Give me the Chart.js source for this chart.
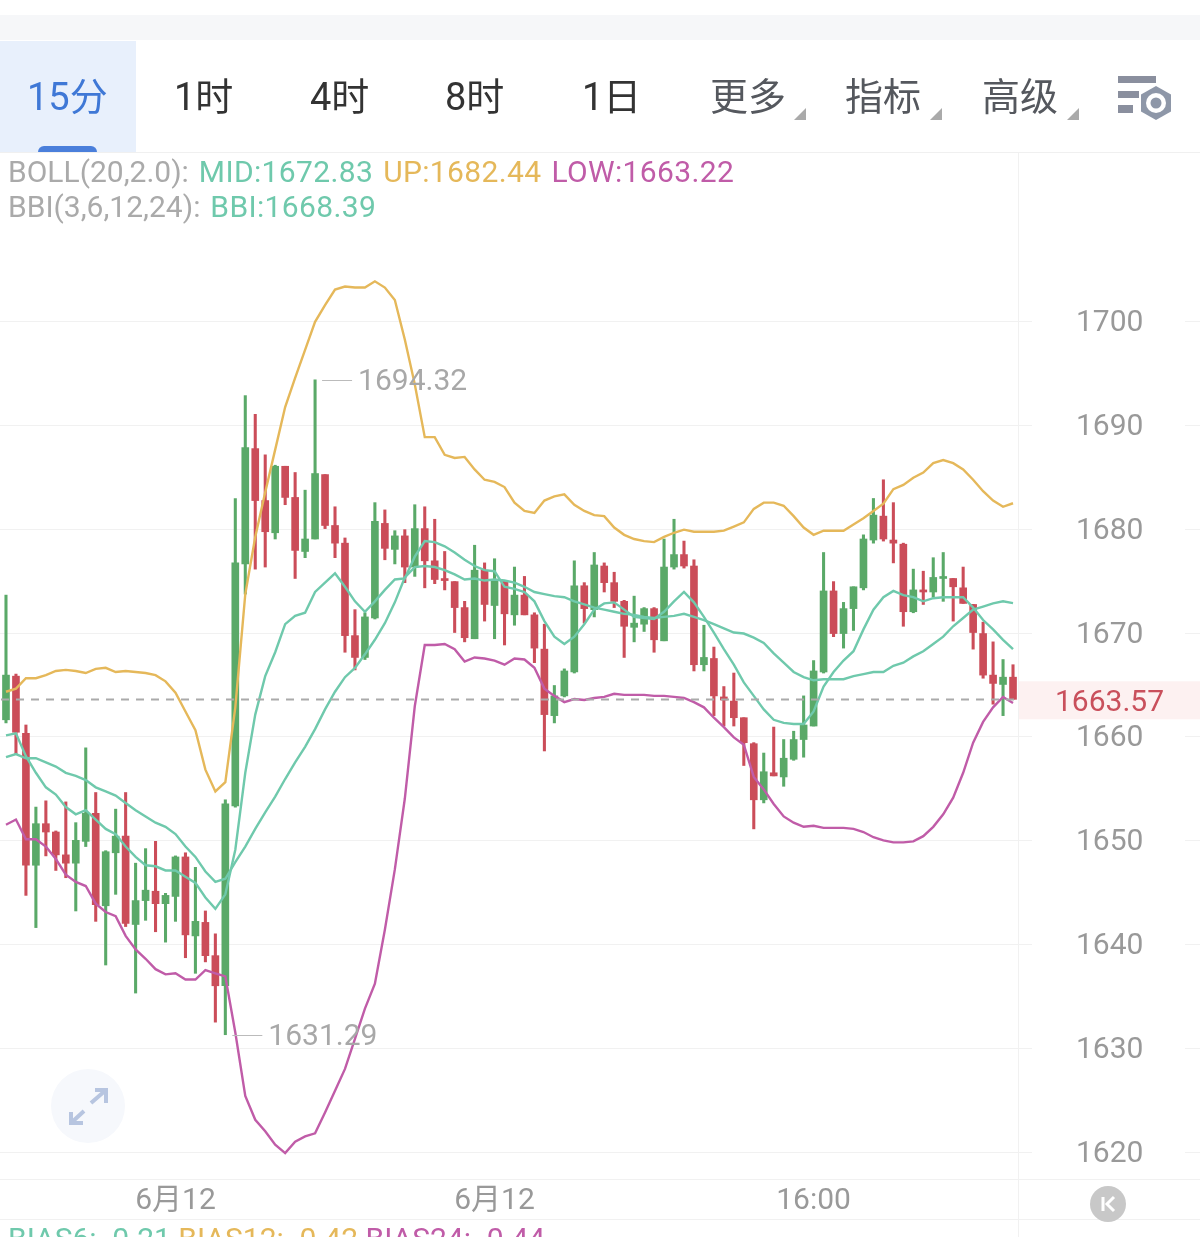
<!DOCTYPE html>
<html>
<head>
<meta charset="utf-8">
<script src="https://cdn.jsdelivr.net/npm/chart.js@4"></script>
<style>
  html, body { margin: 0; background: #fff; }
  #page { position: relative; width: 1200px; height: 1237px; overflow: hidden; font-family: Roboto, "Noto Sans CJK SC", sans-serif; }
  #page canvas { position: absolute; left: 0; top: 0; }
  .abs { position: absolute; white-space: nowrap; }
  .tab { font-size: 38px; line-height: 44px; top: 75px; color: #333; }
  .dim { color: #55585e; }
  .ind { font-size: 30px; line-height: 36px; left: 8px; word-spacing: 2.500px; }
  .ind b { font-weight: 400; letter-spacing: 0.36px; }
  .bias, .bias b { word-spacing: 0; letter-spacing: 0; }
  .tri { width: 0; height: 0; border-left: 12px solid transparent; border-bottom: 12px solid #aaa; top: 108px; }
</style>
</head>
<body>
<div id="page">
  <div class="abs" style="left:0;top:15px;width:1200px;height:25px;background:#f6f7f9"></div>
  <div class="abs" style="left:0;top:41px;width:136px;height:111px;background:#e8f0fc"></div>
  <div class="abs" style="left:38px;top:146px;width:59px;height:6px;background:#4a7fdb;border-radius:6px 6px 0 0"></div>
  <div class="abs" style="left:0;top:152px;width:1200px;height:1px;background:#f0f0f0"></div>
  <canvas id="chart" width="1200" height="1241"></canvas>

  <span class="abs tab" style="left:27px;color:#3f78d6">15分</span>
  <span class="abs tab" style="left:174px">1时</span>
  <span class="abs tab" style="left:310px">4时</span>
  <span class="abs tab" style="left:445px">8时</span>
  <span class="abs tab" style="left:582px">1日</span>
  <span class="abs tab dim" style="left:710px">更多</span>
  <span class="abs tab dim" style="left:845px">指标</span>
  <span class="abs tab dim" style="left:982px">高级</span>
  <div class="abs tri" style="left:794px"></div>
  <div class="abs tri" style="left:930px"></div>
  <div class="abs tri" style="left:1067px"></div>
  <svg class="abs" style="left:1110px;top:70px" width="70" height="60" viewBox="1110 70 70 60">
    <rect x="1118" y="76" width="38" height="7" fill="#8a8f9e"/>
    <rect x="1118" y="91" width="21" height="7" fill="#8a8f9e"/>
    <rect x="1118" y="105" width="15" height="8" fill="#8a8f9e"/>
    <polygon points="1156,86 1171,94.500 1171,111.500 1156,120 1141,111.500 1141,94.500" fill="#8e97a8"/>
    <circle cx="1156" cy="103" r="10" fill="#fff"/>
    <circle cx="1156" cy="103" r="5.500" fill="#8e97a8"/>
  </svg>

  <div class="abs ind" style="top:154px;color:#aaa">BOLL(20,2.0): <b style="color:#6fc9ac">MID:1672.83</b> <b style="color:#e5b85a">UP:1682.44</b> <b style="color:#c05ca8">LOW:1663.22</b></div>
  <div class="abs ind" style="top:189px;color:#aaa">BBI(3,6,12,24): <b style="color:#6fc9ac">BBI:1668.39</b></div>

  <svg class="abs" style="left:50px;top:1068px" width="76" height="76" viewBox="50 1068 76 76">
    <circle cx="88" cy="1106" r="37" fill="#f6f8fc"/>
    <path d="M91 1103 L106 1090 M95 1090 L106 1090 L106 1103 M71 1123 L84 1111 M71 1112 L71 1123 L83 1123" fill="none" stroke="#b7c5e0" stroke-width="4"/>
  </svg>
  <svg class="abs" style="left:1088px;top:1184px" width="40" height="40" viewBox="1088 1184 40 40">
    <circle cx="1108" cy="1204" r="18" fill="#c8c8c8"/>
    <path d="M1103 1197 V1211 M1114 1197 L1107 1204 L1114 1211" fill="none" stroke="#fff" stroke-width="3"/>
  </svg>

  <div class="abs ind bias" style="top:1221px;color:#6fc9ac">BIAS6: -0.21 <b style="color:#e5b85a">BIAS12: -0.42</b> <b style="color:#c05ca8">BIAS24: -0.44</b></div>
</div>

<script>
const opens = [
  1661.6, 1665.8, 1660.3, 1647.6, 1651.6, 1650.8, 1648.6, 1647.8, 1649.9, 1652.6,
  1643.7, 1648.8, 1650.4, 1641.9, 1644.2, 1645.1, 1643.9, 1644.6, 1648.4, 1640.8,
  1642.1, 1638.9, 1636.0, 1653.3, 1676.6, 1687.7, 1682.7, 1679.6, 1686.0, 1683.0,
  1677.8, 1679.0, 1685.2, 1680.3, 1678.6, 1669.7, 1667.6, 1671.4, 1680.5, 1678.0,
  1679.3, 1676.3, 1680.0, 1676.9, 1675.1, 1674.9, 1672.4, 1669.4, 1676.0, 1672.6,
  1674.9, 1671.7, 1673.6, 1671.7, 1668.4, 1662.0, 1663.9, 1666.2, 1674.5, 1672.2,
  1676.4, 1674.8, 1673.0, 1670.5, 1670.8, 1672.3, 1669.2, 1676.3, 1677.5, 1676.4,
  1666.9, 1667.5, 1663.8, 1663.4, 1661.8, 1659.3, 1653.9, 1656.5, 1656.1, 1657.8,
  1659.7, 1661.0, 1666.2, 1674.0, 1669.9, 1672.3, 1674.3, 1678.9, 1681.2, 1678.9,
  1678.5, 1672.0, 1674.1, 1673.9, 1675.2, 1675.2, 1674.3, 1672.7, 1669.9, 1665.9,
  1665.0, 1665.7
];
const closes = [
  1665.9, 1660.4, 1647.6, 1651.6, 1650.8, 1648.6, 1647.8, 1650.0, 1652.6, 1643.8,
  1648.9, 1650.4, 1642.0, 1644.2, 1645.2, 1643.9, 1644.7, 1648.4, 1640.9, 1642.2,
  1638.9, 1636.0, 1653.5, 1676.7, 1687.8, 1682.7, 1679.7, 1686.0, 1683.0, 1677.9,
  1679.0, 1685.3, 1680.3, 1678.6, 1669.7, 1667.6, 1671.5, 1680.7, 1678.1, 1679.3,
  1676.3, 1680.0, 1676.9, 1675.1, 1675.0, 1672.4, 1669.5, 1676.0, 1672.7, 1675.1,
  1671.8, 1673.6, 1671.7, 1668.5, 1662.1, 1663.9, 1666.3, 1674.5, 1672.3, 1676.5,
  1674.8, 1673.0, 1670.6, 1670.9, 1672.3, 1669.3, 1676.3, 1677.5, 1676.4, 1666.9,
  1667.6, 1663.9, 1663.5, 1661.8, 1659.4, 1653.9, 1656.6, 1656.2, 1657.9, 1659.7,
  1661.1, 1666.3, 1674.0, 1669.9, 1672.3, 1674.4, 1679.0, 1681.3, 1679.0, 1678.6,
  1672.0, 1674.1, 1673.9, 1675.3, 1675.3, 1674.4, 1672.8, 1670.0, 1665.9, 1665.1,
  1665.7, 1663.57
];
const highs = [
  1673.6, 1666.0, 1661.1, 1653.2, 1653.8, 1650.9, 1653.7, 1651.7, 1658.9, 1654.6,
  1649.0, 1653.0, 1654.6, 1647.8, 1649.2, 1649.9, 1644.9, 1648.5, 1648.8, 1647.4,
  1643.2, 1641.0, 1653.9, 1682.9, 1692.8, 1691.0, 1687.1, 1686.1, 1686.0, 1685.4,
  1683.7, 1694.32, 1685.2, 1682.1, 1679.1, 1672.2, 1671.9, 1682.5, 1681.8, 1679.8,
  1679.9, 1682.3, 1682.1, 1680.9, 1677.8, 1674.9, 1673.0, 1678.4, 1676.7, 1677.1,
  1674.9, 1676.3, 1675.4, 1671.9, 1670.8, 1664.9, 1666.5, 1676.9, 1674.8, 1677.7,
  1676.7, 1675.8, 1673.1, 1673.5, 1672.4, 1672.4, 1679.0, 1680.9, 1678.8, 1677.0,
  1670.7, 1668.6, 1664.8, 1666.1, 1661.8, 1659.4, 1658.4, 1660.9, 1659.7, 1660.5,
  1663.9, 1667.3, 1677.7, 1674.9, 1672.9, 1674.4, 1679.4, 1682.9, 1684.7, 1682.5,
  1678.6, 1676.1, 1675.9, 1677.2, 1677.7, 1675.2, 1676.3, 1672.7, 1671.0, 1669.1,
  1667.4, 1666.9
];
const lows = [
  1661.3, 1658.3, 1644.7, 1641.6, 1648.5, 1647.1, 1646.4, 1643.2, 1649.4, 1642.2,
  1638.0, 1644.8, 1641.7, 1635.3, 1642.3, 1641.2, 1640.2, 1642.2, 1638.7, 1637.2,
  1638.3, 1632.5, 1631.29, 1653.2, 1673.7, 1676.1, 1676.3, 1679.0, 1682.3, 1675.2,
  1677.2, 1679.0, 1680.0, 1677.2, 1668.1, 1666.4, 1667.4, 1671.3, 1677.0, 1676.6,
  1674.8, 1675.4, 1674.3, 1674.7, 1674.1, 1670.0, 1669.1, 1669.4, 1671.1, 1669.4,
  1668.8, 1670.7, 1671.7, 1667.1, 1658.6, 1661.3, 1663.8, 1666.1, 1670.9, 1671.5,
  1673.9, 1672.4, 1667.6, 1669.1, 1670.1, 1668.1, 1669.2, 1676.1, 1676.2, 1666.3,
  1666.3, 1662.0, 1661.0, 1661.0, 1657.2, 1651.1, 1653.6, 1656.2, 1655.2, 1657.7,
  1658.0, 1661.0, 1666.1, 1669.6, 1668.5, 1670.2, 1674.1, 1678.6, 1678.8, 1676.7,
  1670.6, 1671.9, 1672.7, 1673.4, 1673.0, 1671.1, 1672.8, 1668.4, 1665.6, 1663.1,
  1662.0, 1663.57
];
const bollUp = [
  1664.3, 1664.6, 1665.6, 1665.6, 1665.9, 1666.3, 1666.4, 1666.3, 1666.1, 1666.5,
  1666.6, 1666.2, 1666.3, 1666.2, 1666.1, 1665.9, 1665.3, 1664.2, 1662.4, 1660.6,
  1656.8, 1654.7, 1655.6, 1662.8, 1673.7, 1679.2, 1683.5, 1687.6, 1691.7, 1694.5,
  1697.2, 1699.9, 1701.5, 1703.0, 1703.3, 1703.2, 1703.2, 1703.8, 1703.2, 1702.0,
  1698.2, 1693.9, 1688.8, 1688.8, 1687.1, 1686.8, 1686.9, 1685.7, 1684.7, 1684.5,
  1684.0, 1682.5, 1681.7, 1681.5, 1682.7, 1683.1, 1683.3, 1682.3, 1681.7, 1681.3,
  1681.2, 1680.1, 1679.4, 1679.0, 1678.8, 1678.7, 1679.2, 1679.6, 1679.9, 1679.7,
  1679.7, 1679.7, 1679.8, 1680.2, 1680.6, 1681.9, 1682.5, 1682.5, 1682.2, 1681.2,
  1680.1, 1679.4, 1679.8, 1679.8, 1679.8, 1680.4, 1681.0, 1681.7, 1682.4, 1683.8,
  1684.2, 1684.9, 1685.4, 1686.3, 1686.6, 1686.3, 1685.7, 1684.7, 1683.6, 1682.7,
  1682.1, 1682.44
];
const bollMid = [
  1658.0, 1658.3, 1657.9, 1657.9, 1657.5, 1657.1, 1656.5, 1656.2, 1655.8, 1655.1,
  1654.7, 1654.3, 1653.6, 1652.9, 1652.3, 1651.7, 1651.3, 1650.6, 1649.4, 1648.4,
  1647.0, 1646.0, 1646.3, 1647.9, 1649.4, 1651.1, 1652.7, 1654.2, 1655.9, 1657.5,
  1659.0, 1660.7, 1662.6, 1664.3, 1665.7, 1666.6, 1667.9, 1669.3, 1670.9, 1672.9,
  1675.3, 1676.3, 1676.4, 1676.3, 1676.0, 1675.6, 1675.1, 1675.2, 1675.0, 1675.1,
  1675.0, 1674.8, 1674.4, 1673.9, 1673.7, 1673.5, 1673.4, 1673.0, 1672.7, 1672.4,
  1672.2, 1672.0, 1671.8, 1671.7, 1671.5, 1671.4, 1671.5, 1671.6, 1671.8, 1671.5,
  1671.2, 1670.8, 1670.4, 1670.0, 1669.9, 1669.5, 1669.0, 1668.0, 1667.1, 1666.2,
  1665.7, 1665.4, 1665.5, 1665.5, 1665.5, 1665.8, 1666.0, 1666.2, 1666.2, 1666.8,
  1667.1, 1667.7, 1668.2, 1668.9, 1669.6, 1670.6, 1671.4, 1672.2, 1672.5, 1672.8,
  1673.0, 1672.83
];
const bollLow = [
  1651.5, 1652.0, 1650.1, 1650.1, 1649.4, 1648.2, 1646.7, 1646.0, 1645.6, 1643.9,
  1643.1, 1642.7, 1640.8, 1639.5, 1638.6, 1637.6, 1637.1, 1637.2, 1636.6, 1636.6,
  1637.5, 1637.2, 1636.9, 1631.5, 1625.4, 1623.1, 1622.0, 1620.7, 1619.9, 1621.0,
  1621.5, 1621.8, 1623.8, 1625.9, 1628.0, 1630.9, 1633.8, 1636.2, 1641.4, 1647.2,
  1654.0, 1662.9, 1668.8, 1668.8, 1668.9, 1668.4, 1667.2, 1667.6, 1667.5, 1667.3,
  1666.9, 1667.5, 1667.4, 1666.6, 1664.6, 1663.9, 1663.3, 1663.6, 1663.5, 1663.7,
  1663.8, 1664.1, 1664.0, 1664.0, 1664.0, 1663.9, 1663.9, 1663.8, 1663.7, 1663.3,
  1662.8, 1661.8, 1660.9, 1659.9, 1659.2, 1656.1, 1654.9, 1653.5, 1652.3, 1651.7,
  1651.3, 1651.4, 1651.2, 1651.2, 1651.2, 1651.1, 1650.8, 1650.3, 1650.0, 1649.8,
  1649.8, 1649.9, 1650.4, 1651.3, 1652.5, 1654.1, 1656.5, 1659.4, 1661.4, 1662.8,
  1663.8, 1663.22
];
const bbi = [
  1660.1, 1660.3, 1658.1, 1656.5, 1655.1, 1654.4, 1653.2, 1652.5, 1652.9, 1652.0,
  1651.1, 1650.6, 1649.4, 1648.4, 1647.6, 1647.5, 1647.1, 1647.1, 1646.5, 1645.9,
  1644.5, 1643.4, 1644.8, 1649.1, 1656.5, 1662.1, 1665.8, 1668.1, 1670.8, 1671.6,
  1671.9, 1673.9, 1674.8, 1675.7, 1674.4, 1673.0, 1672.0, 1673.0, 1674.1, 1675.1,
  1675.2, 1677.3, 1678.8, 1678.7, 1678.3, 1677.7, 1677.0, 1676.4, 1676.0, 1675.9,
  1674.4, 1674.2, 1673.9, 1673.0, 1671.1, 1669.6, 1668.9, 1669.6, 1670.8, 1672.2,
  1672.8, 1672.9, 1672.2, 1671.5, 1671.4, 1671.3, 1672.0, 1673.0, 1673.9, 1672.9,
  1671.5, 1670.0, 1668.4, 1666.9, 1665.2, 1663.9, 1662.6, 1661.6, 1661.3, 1661.2,
  1661.2, 1662.4, 1664.8, 1666.2, 1667.3, 1668.2, 1670.3, 1672.2, 1673.4, 1674.0,
  1673.6, 1673.4, 1673.0, 1673.3, 1673.4, 1673.4, 1673.4, 1672.4, 1671.2, 1670.3,
  1669.3, 1668.39
];

const yTicks = [1700, 1690, 1680, 1670, 1660, 1650, 1640, 1630, 1620];
const xTickIndex = [17, 49, 81];
const xTickLabels = ["6月12", "6月12", "16:00"];
const lastPrice = 1663.57;
const maxPrice = 1694.32;
const minPrice = 1631.29;

const GREEN = "#5aa968";
const RED = "#cb4d59";
const labelFont = { family: "Roboto, 'Noto Sans CJK SC'", size: 30 };

const candleColor = opens.map((o, i) => (closes[i] >= o ? GREEN : RED));

const lineSet = (label, data, color) => ({
  type: "line",
  label: label,
  data: data,
  borderColor: color,
  borderWidth: 2.4,
  pointRadius: 0,
  tension: 0,
  order: 0,
});

// grid lines run past the plot on both sides, so they are not the axis grid
const gridPlugin = {
  id: "gridLines",
  beforeDatasetsDraw(chart) {
    const ctx = chart.ctx;
    const y = chart.scales.y;
    ctx.save();
    ctx.strokeStyle = "#f1f1f1";
    ctx.lineWidth = 1;
    for (const t of yTicks) {
      const py = Math.round(y.getPixelForValue(t)) + 0.5;
      ctx.beginPath();
      ctx.moveTo(0, py);
      ctx.lineTo(1032, py);
      ctx.moveTo(1185, py);
      ctx.lineTo(1200, py);
      ctx.stroke();
    }
    ctx.strokeStyle = "#f1f1f1";
    ctx.beginPath();
    ctx.moveTo(1018.5, 153);
    ctx.lineTo(1018.5, 1237);
    ctx.moveTo(0, 1179.5);
    ctx.lineTo(1200, 1179.5);
    ctx.moveTo(0, 1219.5);
    ctx.lineTo(1200, 1219.5);
    ctx.stroke();
    ctx.restore();
  },
  beforeDraw(chart) {
    const ctx = chart.ctx;
    const py = chart.scales.y.getPixelForValue(lastPrice);
    ctx.save();
    ctx.fillStyle = "#fdf1f1";
    ctx.fillRect(1019, py - 18, 181, 38);
    ctx.restore();
  },
};

const markerPlugin = {
  id: "markers",
  afterDatasetsDraw(chart) {
    const ctx = chart.ctx;
    const x = chart.scales.x;
    const y = chart.scales.y;
    ctx.save();
    ctx.font = "30px " + labelFont.family;
    ctx.textBaseline = "middle";

    // last price
    const py = Math.round(y.getPixelForValue(lastPrice)) + 0.5;
    ctx.strokeStyle = "#aaaaaa";
    ctx.lineWidth = 2;
    ctx.setLineDash([8, 7]);
    ctx.beginPath();
    ctx.moveTo(1, py);
    ctx.lineTo(1018, py);
    ctx.stroke();
    ctx.setLineDash([]);
    ctx.fillStyle = "#c9505c";
    ctx.fillText(lastPrice.toFixed(2), 1055, py + 4);

    // high and low of the visible window
    const marks = [
      [highs.indexOf(maxPrice), maxPrice],
      [lows.indexOf(minPrice), minPrice],
    ];
    ctx.lineWidth = 1;
    ctx.strokeStyle = "#bbbbbb";
    ctx.fillStyle = "#a8a8a8";
    for (const m of marks) {
      const mx = x.getPixelForValue(m[0]);
      const my = Math.round(y.getPixelForValue(m[1])) + 0.5;
      ctx.beginPath();
      ctx.moveTo(mx + 7, my);
      ctx.lineTo(mx + 37, my);
      ctx.stroke();
      ctx.fillText(m[1].toFixed(2), mx + 43, my + 2);
    }
    ctx.restore();
  },
};

new Chart(document.getElementById("chart"), {
  type: "bar",
  data: {
    labels: opens.map((_, i) => i),
    datasets: [
      lineSet("BOLL UP", bollUp, "#e5b85a"),
      lineSet("BOLL MID", bollMid, "#6fc9ac"),
      lineSet("BOLL LOW", bollLow, "#c05ca8"),
      lineSet("BBI", bbi, "#6fc9ac"),
      {
        label: "wick",
        data: lows.map((l, i) => [l, highs[i]]),
        backgroundColor: candleColor,
        barThickness: 2.4,
        grouped: false,
        order: 2,
      },
      {
        label: "body",
        data: opens.map((o, i) => [Math.min(o, closes[i]), Math.max(o, closes[i])]),
        backgroundColor: candleColor,
        barThickness: 7,
        minBarLength: 2,
        grouped: false,
        order: 1,
      },
    ],
  },
  options: {
    responsive: false,
    animation: false,
    layout: { padding: { left: 1, top: 153, right: 0, bottom: 0 } },
    plugins: { legend: { display: false }, tooltip: { enabled: false } },
    scales: {
      x: {
        offset: true,
        grid: { display: false },
        border: { display: false },
        afterFit: (s) => { s.height = 40; },
        ticks: {
          autoSkip: false,
          maxRotation: 0,
          padding: -3,
          color: "#999999",
          font: labelFont,
          callback: (v, i) => {
            const k = xTickIndex.indexOf(i);
            return k < 0 ? "" : xTickLabels[k];
          },
        },
      },
      y: {
        position: "right",
        min: 1617.5,
        max: 1716.15,
        grid: { display: false, drawTicks: false },
        border: { display: false },
        afterFit: (s) => { s.width = 182; },
        afterBuildTicks: (s) => { s.ticks = yTicks.map((v) => ({ value: v })); },
        ticks: {
          padding: 58,
          color: "#999999",
          // empty first line + small line height nudges the number down 2px
          font: { family: labelFont.family, size: labelFont.size, lineHeight: "5px" },
          callback: (v) => ["", String(v)],
        },
      },
    },
  },
  plugins: [gridPlugin, markerPlugin],
});
</script>
</body>
</html>
